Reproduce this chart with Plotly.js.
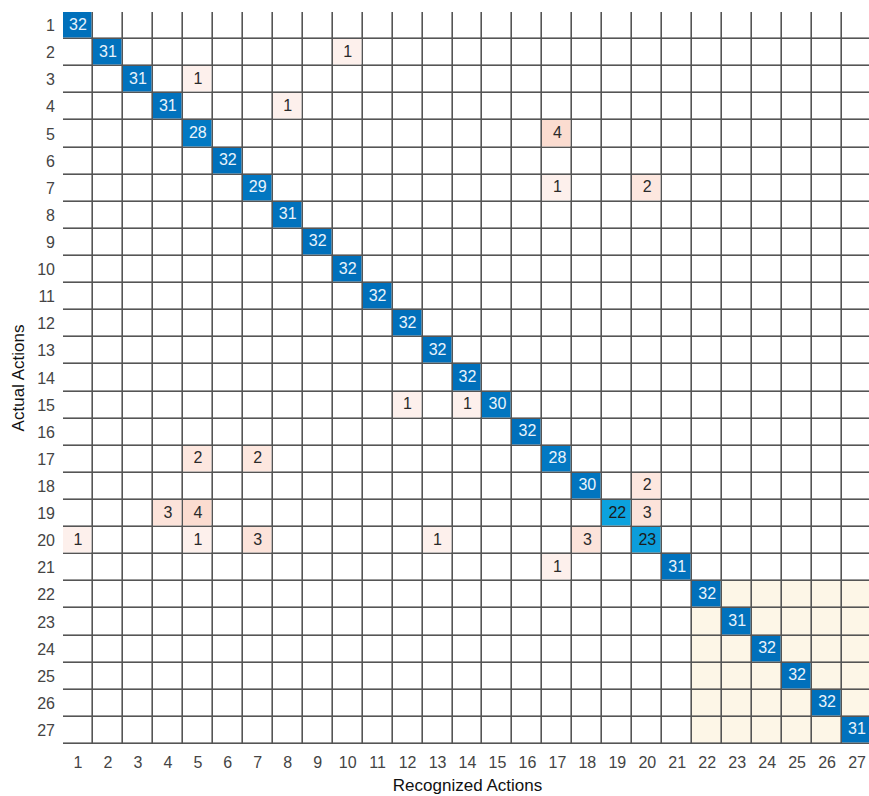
<!DOCTYPE html>
<html>
<head>
<meta charset="utf-8">
<script src="https://cdn.plot.ly/plotly-3.0.1.min.js"></script>
<style>
html,body{margin:0;padding:0;overflow:hidden;background:#fff;}
#chart{width:875px;height:796px;}
</style>
</head>
<body>
<div id="chart"></div>
<script>
// ---- data ----
const classLabels = ["1","2","3","4","5","6","7","8","9","10","11","12","13","14","15","16","17","18","19","20","21","22","23","24","25","26","27"];
const diagonalCounts = [32,31,31,31,28,32,29,31,32,32,32,32,32,32,30,32,28,30,22,23,31,32,31,32,32,32,31];
const offRow = [2,3,4,5,7,7,15,15,17,17,18,19,19,19,20,20,20,20,20,21];
const offCol = [10,5,8,17,17,20,12,14,5,7,20,4,5,20,1,5,7,13,18,17];
const offVal = [1,1,1,4,1,2,1,1,2,2,2,3,4,3,1,1,3,1,3,1];
const highlightFrom = 22;
const highlightTo = 27;

const n = classLabels.length;
const idx = classLabels.map((_, i) => i + 1);

// background grid (white / highlighted block)
const zBase = idx.map(r => idx.map(c => (r >= highlightFrom && r <= highlightTo && c >= highlightFrom && c <= highlightTo) ? 1 : 0));
// diagonal matrix
const zDiag = idx.map((r, i) => idx.map((c, j) => i === j ? diagonalCounts[i] : null));
// off-diagonal matrix
const zOff = idx.map(() => idx.map(() => null));
offVal.forEach((v, k) => { zOff[offRow[k] - 1][offCol[k] - 1] = v; });

const gap = 1.6;
const traces = [
  {type:'heatmap', x: idx, y: idx, z: zBase, xgap: gap, ygap: gap,
   colorscale: [[0,'#ffffff'],[1,'#fdf6e7']], zmin:0, zmax:1, showscale:false, hoverinfo:'skip'},
  {type:'heatmap', x: idx, y: idx, z: zOff, xgap: gap, ygap: gap,
   colorscale: [[0,'#fdf0ec'],[0.34,'#fde7df'],[0.67,'#fce3da'],[1,'#fbdcd0']], zmin:1, zmax:4, showscale:false, hoverinfo:'skip'},
  {type:'heatmap', x: idx, y: idx, z: zDiag, xgap: gap, ygap: gap,
   colorscale: [[0,'#0ca2de'],[0.4,'#0a8ed0'],[0.6,'#0279c3'],[1,'#0070bb']], zmin:22, zmax:32, showscale:false, hoverinfo:'skip'}
];

// cell labels
const tx = [], ty = [], tt = [], tc = [];
diagonalCounts.forEach((v, i) => { tx.push(i + 1); ty.push(i + 1); tt.push(String(v)); tc.push(v < 25 ? '#1b1b1b' : '#e9f3fb'); });
offVal.forEach((v, k) => { tx.push(offCol[k]); ty.push(offRow[k]); tt.push(String(v)); tc.push('#2a2a2a'); });
traces.push({type:'scatter', mode:'text', x: tx, y: ty, text: tt,
  textfont:{family:'Liberation Sans, Arial, sans-serif', size:16, color: tc},
  textposition:'middle center', hoverinfo:'skip', showlegend:false, cliponaxis:false});

const layout = {
  width: 875, height: 796,
  margin: {l:63, r:3, t:11.5, b:51.5},
  paper_bgcolor:'#ffffff', plot_bgcolor:'#555555',
  showlegend:false,
  font:{family:'Liberation Sans, Arial, sans-serif', color:'#444'},
  xaxis:{range:[0.5, n + 0.5], tickvals: idx, ticktext: classLabels, showgrid:false, zeroline:false,
    ticks:'', ticklen:0, tickfont:{size:16, color:'#444'}, ticklabelstandoff:7, fixedrange:true,
    title:{text:'Recognized Actions', font:{size:17, color:'#111'}, standoff:9}},
  yaxis:{range:[n + 0.5, 0.5], tickvals: idx, ticktext: classLabels, showgrid:false, zeroline:false,
    ticks:'', tickfont:{size:16, color:'#444'}, ticklabelstandoff:7, fixedrange:true,
    title:{text:'Actual Actions', font:{size:17, color:'#111'}, standoff:8}}
};

Plotly.newPlot('chart', traces, layout, {displayModeBar:false, staticPlot:true});
</script>
</body>
</html>
